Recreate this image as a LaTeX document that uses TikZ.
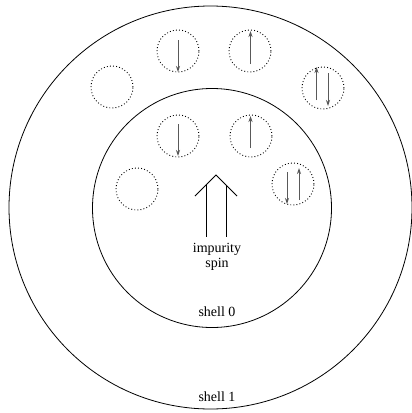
\documentclass[tikz,border=0pt]{standalone}
\usepackage{fontspec}
\setmainfont{Liberation Serif}
\usetikzlibrary{arrows.meta}
\begin{document}
\begin{tikzpicture}[x=1pt,y=-1pt,
  shellc/.style={draw=black, line width=0.8pt},
  site/.style={circle, draw=black, dash pattern=on 0.9pt off 2.2pt, line width=0.9pt, minimum size=42pt, inner sep=0pt},
  spinarr/.style={draw=black!65, line width=0.9pt, -{Stealth[length=6pt,width=4pt]}},
  lbl/.style={font=\fontsize{14}{15}\selectfont, inner sep=0pt}
]
\useasboundingbox (0,0) rectangle (412,413);
% shells
\draw[shellc] (210.5,207.5) circle[radius=201.5];
\draw[shellc] (212,208) circle[radius=119.5];
% sites
\node[site] (a) at (178,51) {};
\node[site] (b) at (250,51) {};
\node[site] (c) at (112,87) {};
\node[site] (d) at (323,88) {};
\node[site] (e) at (178,136) {};
\node[site] (f) at (251,136) {};
\node[site] (g) at (137,189) {};
\node[site] (h) at (293,184) {};
% spins
\draw[spinarr] (178,40) -- (178,72);
\draw[spinarr] (250.5,64) -- (250.5,31);
\draw[spinarr] (316.5,100) -- (316.5,67);
\draw[spinarr] (328,73) -- (328,106);
\draw[spinarr] (178,124) -- (178,156);
\draw[spinarr] (250.5,148) -- (250.5,116);
\draw[spinarr] (287,172) -- (287,204);
\draw[spinarr] (299,200) -- (299,168);
% impurity spin double arrow
\coordinate (apex) at (216,175);
\draw[line width=0.8pt] (195,196) -- (apex) -- (237,196);
\draw[line width=0.8pt] (206,185) -- (206,237);
\draw[line width=0.8pt] (226.5,185.5) -- (226.5,237);
% labels
\node[lbl] (imp) at (217,249) {impurity};
\node[lbl] (spn) at (217,264) {spin};
\node[lbl] (s0) at (217,312) {shell 0};
\node[lbl] (s1) at (217,397) {shell 1};
\end{tikzpicture}
\end{document}
